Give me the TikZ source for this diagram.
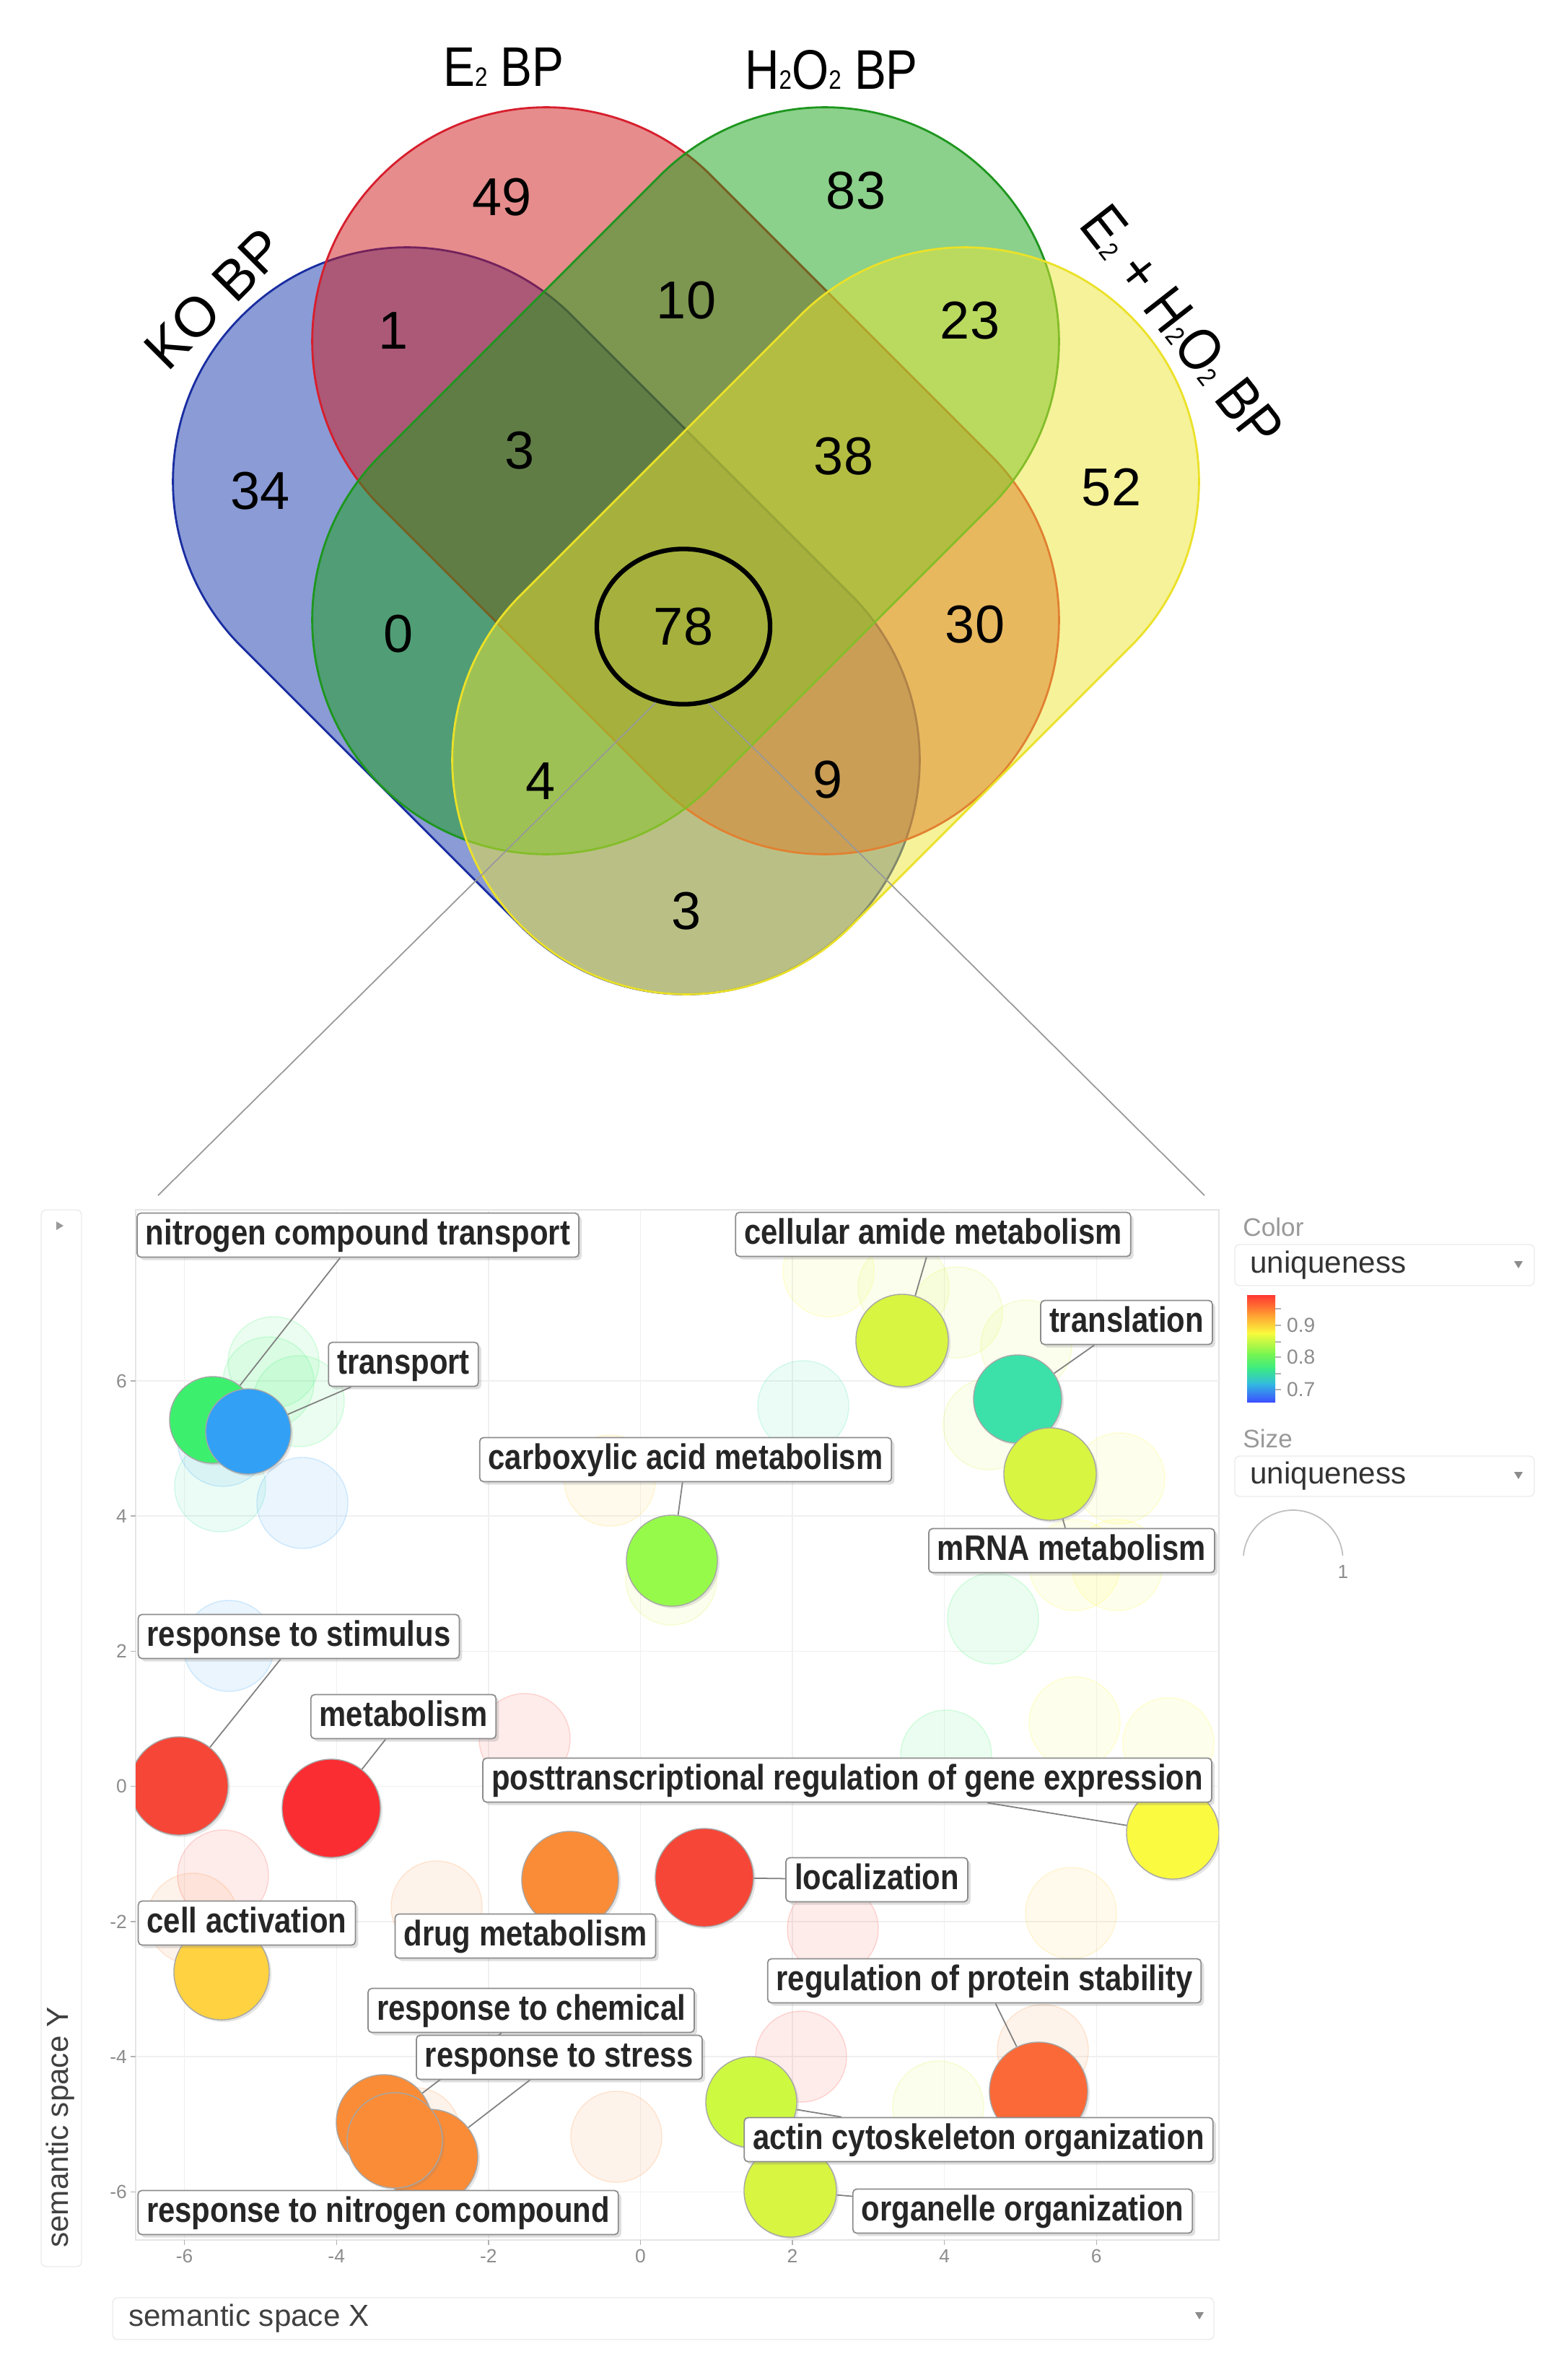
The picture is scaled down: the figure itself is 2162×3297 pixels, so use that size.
\documentclass[tikz,border=0pt]{standalone}
\usepackage{fontspec}
\setmainfont{Liberation Sans}
\newfontfamily\narrowfont[FakeStretch=0.85]{Liberation Sans}
\usetikzlibrary{shapes.geometric,shadows}

\pgfdeclarelayer{faint}
\pgfdeclarelayer{wires}
\pgfsetlayers{faint,wires,main}

\newcommand{\subtwo}{{\fontsize{10.5}{10.5}\selectfont 2}}

% venn sets
\definecolor{koblue}{RGB}{21,55,173}
\definecolor{kored}{RGB}{205,25,25}
\definecolor{kogreen}{RGB}{23,161,23}
\definecolor{koyellow}{RGB}{235,229,53}
\definecolor{kobluedk}{RGB}{25,45,160}
\definecolor{koreddk}{RGB}{215,30,45}
\definecolor{kogreendk}{RGB}{30,150,30}
\definecolor{koyellowdk}{RGB}{235,225,40}
% uniqueness scale
\definecolor{uGreen}{RGB}{60,240,110}
\definecolor{uBlue}{RGB}{50,160,245}
\definecolor{uLime}{RGB}{150,250,75}
\definecolor{uChart}{RGB}{215,245,65}
\definecolor{uTeal}{RGB}{60,225,170}
\definecolor{uRed}{RGB}{245,70,55}
\definecolor{uCrimson}{RGB}{250,45,50}
\definecolor{uOrange}{RGB}{250,140,55}
\definecolor{uYellow}{RGB}{250,250,65}
\definecolor{uGold}{RGB}{255,210,65}
\definecolor{uTomato}{RGB}{250,105,55}
\definecolor{uPear}{RGB}{205,250,65}
\definecolor{cbA}{RGB}{255,55,50}
\definecolor{cbB}{RGB}{255,150,50}
\definecolor{cbC}{RGB}{250,250,60}
\definecolor{cbD}{RGB}{120,245,80}
\definecolor{cbE}{RGB}{60,235,130}
\definecolor{cbF}{RGB}{50,185,225}
\definecolor{cbG}{RGB}{60,80,255}

\tikzset{
  venn/.style={line width=0.8pt, fill opacity=0.5, rounded corners=3.23cm},
  count/.style={font=\fontsize{21}{21}\selectfont},
  setname/.style={font=\narrowfont\fontsize{22}{22}\selectfont},
  bubble/.style={circle, inner sep=0pt, minimum size=1.3cm, draw=black!35, line width=0.4pt, fill=#1,
    drop shadow={shadow xshift=0.03cm, shadow yshift=-0.03cm, opacity=0.2}},
  ghost/.style={circle, inner sep=0pt, minimum size=1.26cm, draw=#1, draw opacity=0.2, fill=#1, fill opacity=0.1},
  term/.style={draw=black!45, line width=0.5pt, fill=white, rounded corners=1.5pt, text=black!85,
    font=\narrowfont\bfseries\fontsize{14}{14}\selectfont, inner xsep=0.12cm, inner ysep=0.075cm,
    text height=0.36cm, text depth=0.1cm,
    drop shadow={shadow xshift=0.04cm, shadow yshift=-0.04cm, opacity=0.25}},
  leader/.style={draw=black!50, line width=0.5pt},
  ticklbl/.style={font=\fontsize{7.5}{7.5}\selectfont, text=black!45, inner sep=1pt},
  panel/.style={draw=black!8, fill=white, rounded corners=2pt},
  menu/.style={font=\fontsize{12}{12}\selectfont, text=black!80},
  caption/.style={font=\fontsize{10}{10}\selectfont, text=black!40},
}

\begin{document}
\begin{tikzpicture}[x=0.01cm, y=-0.01cm]
  \useasboundingbox (0,0) rectangle (2162,3297);

  % four-set venn
  \filldraw[venn, fill=koblue, draw=kobluedk, rotate around={-45:(757,860)}] (160,536) rectangle (1354,1184);
  \filldraw[venn, fill=kored, draw=koreddk, rotate around={-45:(950,666)}] (353,342) rectangle (1547,990);
  \filldraw[venn, fill=kogreen, draw=kogreendk, rotate around={45:(950,666)}] (353,342) rectangle (1547,990);
  \filldraw[venn, fill=koyellow, draw=koyellowdk, rotate around={45:(1144,860)}] (547,536) rectangle (1741,1184);

  \node[setname, font=\fontsize{22}{22}\selectfont, rotate=45] (ko) at (297,414) {KO BP};
  \node[setname] (e2) at (698,93) {E\subtwo\ BP};
  \node[setname] (h2o2) at (1152,97) {H\subtwo O\subtwo\ BP};
  \node[setname, font=\narrowfont\fontsize{23.5}{23.5}\selectfont, rotate=-52] (both) at (1638,452) {E\subtwo\ + H\subtwo O\subtwo\ BP};

  \node[count] (c49) at (696,273) {49};
  \node[count] (c83) at (1186,264) {83};
  \node[count] (c1) at (545,458) {1};
  \node[count] (c10) at (951,416) {10};
  \node[count] (c23) at (1344,444) {23};
  \node[count] (c34) at (361,680) {34};
  \node[count] (c3a) at (720,624) {3};
  \node[count] (c38) at (1169,632) {38};
  \node[count] (c52) at (1540,675) {52};
  \node[count] (c0) at (552,878) {0};
  \node[count] (c30) at (1351,865) {30};
  \node[count] (c4) at (749,1082) {4};
  \node[count] (c9) at (1147,1080) {9};
  \node[count] (c3b) at (951,1262) {3};
  \node[count, draw, ellipse, line width=1.8pt, minimum width=2.4cm, minimum height=2.15cm] (hub) at (947,868) {78};

  \coordinate (zl) at (219,1656);
  \coordinate (zr) at (1669,1656);
  \draw[black!40, line width=0.5pt] (hub.250) -- (zl);
  \draw[black!40, line width=0.5pt] (hub.288) -- (zr);

  % semantic space panels
  \draw[panel] (57,1676) rectangle (113,3140);
  \fill[black!40] (78,1692) -- (88,1698) -- (78,1704) -- cycle;
  \node[menu, text=black!75, rotate=90, anchor=west] (ylab) at (84,3126) {semantic space Y};
  \draw[panel] (156,3183) rectangle (1682,3241);
  \fill[black!45] (1656,3203) -- (1668,3203) -- (1662,3213) -- cycle;
  \node[menu, text=black!75, anchor=west] (xlab) at (166,3212) {semantic space X};

  \begin{pgfonlayer}{faint}
    \draw[black!10] (188,1676) rectangle (1689,3103);
    \foreach \gx in {255.6,466.2,676.8,887.4,1098,1308.6,1519.2}
      \draw[black!6] (\gx,1676) -- (\gx,3103);
    \foreach \gy in {1913,2100,2287.4,2474.6,2661.8,2849,3036.2}
      \draw[black!6] (188,\gy) -- (1689,\gy);
    % faint terms
    \node[ghost=uGreen] (g1) at (379,1887) {};
    \node[ghost=uGreen] (g2) at (372,1915) {};
    \node[ghost=uGreen] (g3) at (414,1941) {};
    \node[ghost=uBlue] (g4) at (309,1996) {};
    \node[ghost=uTeal] (g5) at (305,2059) {};
    \node[ghost=uBlue] (g6) at (419,2082) {};
    \node[ghost=uBlue] (g7) at (317,2280) {};
    \node[ghost=uGold] (g8) at (845,2051) {};
    \node[ghost=uChart] (g9) at (930,2188) {};
    \node[ghost=uRed] (g10) at (727,2409) {};
    \node[ghost=uYellow] (g11) at (1148,1761) {};
    \node[ghost=uChart] (g12) at (1252,1784) {};
    \node[ghost=uChart] (g13) at (1326,1818) {};
    \node[ghost=uChart] (g14) at (1422,1864) {};
    \node[ghost=uTeal] (g15) at (1113,1948) {};
    \node[ghost=uChart] (g16) at (1370,1973) {};
    \node[ghost=uYellow] (g17) at (1551,2048) {};
    \node[ghost=uYellow] (g18) at (1489,2168) {};
    \node[ghost=uYellow] (g19) at (1548,2168) {};
    \node[ghost=uGreen] (g20) at (1376,2242) {};
    \node[ghost=uYellow] (g21) at (1489,2386) {};
    \node[ghost=uYellow] (g22) at (1619,2415) {};
    \node[ghost=uGreen] (g23) at (1311,2432) {};
    \node[ghost=uRed] (g24) at (309,2598) {};
    \node[ghost=uOrange] (g25) at (267,2658) {};
    \node[ghost=uOrange] (g26) at (605,2641) {};
    \node[ghost=uRed] (g27) at (1154,2672) {};
    \node[ghost=uGold] (g28) at (1484,2650) {};
    \node[ghost=uRed] (g29) at (1110,2849) {};
    \node[ghost=uOrange] (g30) at (1445,2840) {};
    \node[ghost=uChart] (g31) at (1300,2918) {};
    \node[ghost=uOrange] (g32) at (854,2960) {};
    \node[ghost=uOrange] (g33) at (575,2955) {};
  \end{pgfonlayer}

  \foreach \gx/\gl in {255.6/-6,466.2/-4,676.8/-2,887.4/0,1098/2,1308.6/4,1519.2/6} {
    \draw[black!30] (\gx,3103) -- (\gx,3110);
    \node[ticklbl, anchor=north] (xt\gl) at (\gx,3112) {\gl};
  }
  \foreach \gy/\gl in {1913/6,2100/4,2287.4/2,2474.6/0,2661.8/-2,2849/-4,3036.2/-6} {
    \draw[black!30] (181,\gy) -- (188,\gy);
    \node[ticklbl, anchor=east] (yt\gl) at (180,\gy) {\gl};
  }

  % representative terms
  \begin{scope}
    \clip (188,1676) rectangle (1689,3103);
    \node[bubble=uGreen, minimum size=1.2cm] (ncomp) at (295,1967) {};
    \node[bubble=uBlue, minimum size=1.18cm] (trans) at (344,1983) {};
    \node[bubble=uLime, minimum size=1.26cm] (carbox) at (931,2162) {};
    \node[bubble=uChart, minimum size=1.28cm] (amide) at (1250,1857) {};
    \node[bubble=uTeal, minimum size=1.22cm] (transl) at (1410,1938) {};
    \node[bubble=uChart, minimum size=1.28cm] (mrna) at (1455,2042) {};
    \node[bubble=uRed, minimum size=1.36cm] (stim) at (248,2474) {};
    \node[bubble=uCrimson, minimum size=1.36cm] (metab) at (459,2505) {};
    \node[bubble=uOrange, minimum size=1.34cm] (drug) at (790,2604) {};
    \node[bubble=uRed, minimum size=1.36cm] (local) at (976,2601) {};
    \node[bubble=uYellow, minimum size=1.28cm] (posttr) at (1625,2539) {};
    \node[bubble=uGold, minimum size=1.32cm] (cellact) at (307,2732) {};
    \node[bubble=uTomato, minimum size=1.36cm] (protstab) at (1439,2897) {};
    \node[bubble=uOrange, minimum size=1.32cm] (stress) at (596,2988) {};
    \node[bubble=uOrange, minimum size=1.32cm] (chem) at (532,2940) {};
    \node[bubble=uOrange, minimum size=1.32cm] (nitro) at (547,2965) {};
    \node[bubble=uPear, minimum size=1.26cm] (actin) at (1041,2912) {};
    \node[bubble=uChart, minimum size=1.28cm] (organ) at (1095,3035) {};
  \end{scope}

  \node[term] (t1) at (496,1711) {nitrogen compound transport};
  \node[term] (t2) at (559,1890) {transport};
  \node[term] (t3) at (950,2022) {carboxylic acid metabolism};
  \node[term] (t4) at (1293,1710) {cellular amide metabolism};
  \node[term] (t5) at (1561,1832) {translation};
  \node[term] (t6) at (1485,2148) {mRNA metabolism};
  \node[term] (t7) at (414,2267) {response to stimulus};
  \node[term] (t8) at (559,2378) {metabolism};
  \node[term] (t9) at (1174,2466) {posttranscriptional regulation of gene expression};
  \node[term] (t10) at (1215,2604) {localization};
  \node[term] (t11) at (342,2664) {cell activation};
  \node[term] (t12) at (728,2682) {drug metabolism};
  \node[term] (t13) at (1364,2744) {regulation of protein stability};
  \node[term] (t14) at (736,2785) {response to chemical};
  \node[term] (t15) at (775,2850) {response to stress};
  \node[term] (t16) at (1356,2964) {actin cytoskeleton organization};
  \node[term] (t17) at (1417,3063) {organelle organization};
  \node[term] (t18) at (524,3065) {response to nitrogen compound};

  \begin{pgfonlayer}{wires}
    \draw[leader] (t1) -- (ncomp);
    \draw[leader] (t2) -- (trans);
    \draw[leader] (t3) -- (carbox);
    \draw[leader] (t4) -- (amide);
    \draw[leader] (t5) -- (transl);
    \draw[leader] (t6) -- (mrna);
    \draw[leader] (t7) -- (stim);
    \draw[leader] (t8) -- (metab);
    \draw[leader] (t9) -- (posttr);
    \draw[leader] (t10) -- (local);
    \draw[leader] (t13) -- (protstab);
    \draw[leader] (t14) -- (chem);
    \draw[leader] (t15) -- (stress);
    \draw[leader] (t16) -- (actin);
    \draw[leader] (t17) -- (organ);
  \end{pgfonlayer}

  % legend
  \node[caption, anchor=west] (colcap) at (1710,1700) {Color};
  \draw[panel] (1711,1724) rectangle (2126,1781);
  \node[menu, anchor=west] (colmenu) at (1720,1753) {uniqueness};
  \fill[black!45] (2098,1747) -- (2110,1747) -- (2104,1757) -- cycle;
  \shade[top color=cbA, bottom color=cbB] (1728,1794) rectangle (1767,1820);
  \shade[top color=cbB, bottom color=cbC] (1728,1819) rectangle (1767,1847);
  \shade[top color=cbC, bottom color=cbD] (1728,1846) rectangle (1767,1876);
  \shade[top color=cbD, bottom color=cbE] (1728,1875) rectangle (1767,1896);
  \shade[top color=cbE, bottom color=cbF] (1728,1895) rectangle (1767,1918);
  \shade[top color=cbF, bottom color=cbG] (1728,1917) rectangle (1767,1942);
  \foreach \ty in {1813,1836,1859,1880,1903,1925}
    \draw[black!30] (1767,\ty) -- (1775,\ty);
  \node[ticklbl, font=\fontsize{8}{8}\selectfont, anchor=west] (cb9) at (1779,1836) {0.9};
  \node[ticklbl, font=\fontsize{8}{8}\selectfont, anchor=west] (cb8) at (1779,1880) {0.8};
  \node[ticklbl, font=\fontsize{8}{8}\selectfont, anchor=west] (cb7) at (1779,1925) {0.7};

  \node[caption, anchor=west] (sizecap) at (1710,1993) {Size};
  \draw[panel] (1711,2017) rectangle (2126,2073);
  \node[menu, anchor=west] (sizemenu) at (1720,2045) {uniqueness};
  \fill[black!45] (2098,2039) -- (2110,2039) -- (2104,2049) -- cycle;
  \draw[black!25, line width=0.5pt] (1723,2155) arc[start angle=175, end angle=5, radius=0.69cm];
  \node[ticklbl] (size1) at (1861,2177) {1};
\end{tikzpicture}
\end{document}
